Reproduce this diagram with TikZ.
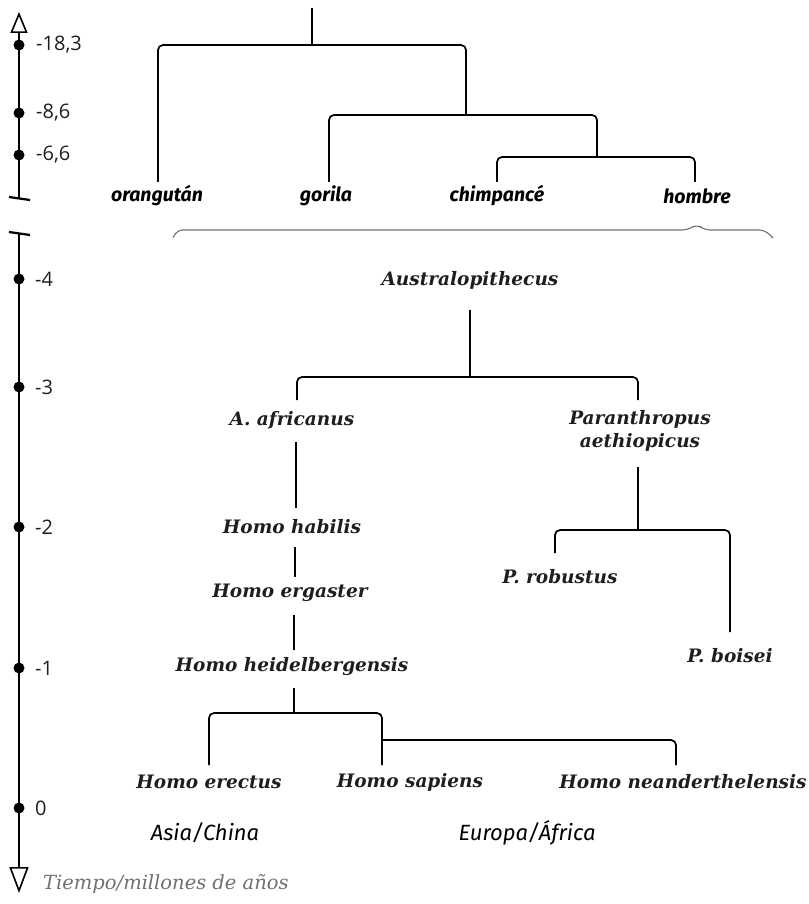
\documentclass[tikz,border=0pt]{standalone}
\usepackage{fontspec}
\setmainfont{DejaVu Serif}
\newfontfamily\numfont{Open Sans}
\newfontfamily\handfont{Fira Sans}
\usetikzlibrary{arrows.meta}
\definecolor{txt}{HTML}{1E1E1E}
\definecolor{graytxt}{HTML}{707070}
\tikzset{
  br/.style={line width=1.7pt, rounded corners=5pt},
  axisln/.style={line width=2.2pt},
  tickdot/.style={circle, fill=black, inner sep=0pt, minimum size=11pt},
  num/.style={anchor=west, font=\numfont\fontsize{20}{22}\selectfont, text=txt, inner sep=0pt},
  hand/.style={font=\handfont\bfseries\itshape\fontsize{19.5}{22}\selectfont, inner sep=0pt},
  sp/.style={font=\bfseries\itshape\fontsize{18.5}{23}\selectfont, text=txt, inner sep=0pt, align=center},
  reg/.style={font=\handfont\itshape\fontsize{22}{24}\selectfont, inner sep=0pt},
}
\begin{document}
\begin{tikzpicture}[x=1pt,y=-1pt]
\useasboundingbox (0,0) rectangle (808,904);
% ---- top axis
\coordinate (a1top) at (19,12);
\coordinate (a1bot) at (19,198);
\draw[axisln, -{Triangle[open,length=21pt,width=17pt,line width=1.6pt]}] (a1bot) -- (a1top);
\draw[axisln] (9,197) -- (30,200);
\foreach \y/\l/\n in {45/-18{,}3/t1, 113/-8{,}6/t2, 155/-6{,}6/t3}{
  \node[tickdot] (d\n) at (19,\y) {};
  \node[num] (l\n) at (36,\y) {\l};
}
% ---- top tree
\node[hand] (orang) at (157,196) {orangután};
\node[hand] (gor) at (326,196) {gorila};
\node[hand] (chimp) at (497,196) {chimpancé};
\node[hand] (homb) at (697,196) {hombre};
\coordinate (root) at (312,8);
\coordinate (j1) at (312,45);
\coordinate (j2) at (466,115);
\coordinate (j3) at (597,157);
\draw[br] (root) -- (j1);
\draw[br] (158,182) -- (158,45) -- (466,45) -- (j2);
\draw[br] (329,182) -- (329,115) -- (597,115) -- (j3);
\draw[br] (497,182) -- (497,157) -- (695,157) -- (695,182);
% ---- brace
\draw[graytxt, line width=1.1pt, rounded corners=6pt] (173,238) -- (177,230) -- (688,230) -- (697,224) -- (704,230) -- (765,230) -- (773,238);
% ---- bottom axis
\draw[axisln, -{Triangle[open,length=26pt,width=19pt,line width=1.6pt]}] (19,233) -- (19,893);
\draw[axisln] (9,232) -- (30,235);
\foreach \y/\l/\n in {279/-4/b1, 387/-3/b2, 527/-2/b3, 668/-1/b4, 808/0/b5}{
  \node[tickdot] (d\n) at (19,\y) {};
  \node[num] (l\n) at (35,\y) {\l};
}
\node[font=\itshape\fontsize{19.5}{22}\selectfont, text=graytxt, anchor=west, inner sep=0pt] (tiempo) at (43,884) {Tiempo/millones de años};
% ---- hominid tree
\node[sp] (austr) at (470,280) {Australopithecus};
\node[sp] (afr) at (292,420) {A. africanus};
\node[sp] (para) at (640,431) {Paranthropus\\aethiopicus};
\node[sp] (hab) at (292,527) {Homo habilis};
\node[sp] (erg) at (290,593) {Homo ergaster};
\node[sp] (heid) at (292,667) {Homo heidelbergensis};
\node[sp] (rob) at (560,577) {P. robustus};
\node[sp] (boi) at (730,656) {P. boisei};
\node[sp] (erec) at (209,782) {Homo erectus};
\node[sp] (sap) at (410,782) {Homo sapiens};
\node[sp] (nean) at (683,782) {Homo neanderthelensis};
\node[reg] (asia) at (205,833) {Asia/China};
\node[reg] (euro) at (527,833) {Europa/África};
\coordinate (ja) at (470,377);
\draw[br] (470,310) -- (ja);
\draw[br] (297,400) -- (297,377) -- (638,377) -- (638,400);
\draw[br] (296,442) -- (296,508);
\draw[br] (295,547) -- (295,577);
\draw[br] (294,615) -- (294,650);
\coordinate (jp) at (638,530);
\draw[br] (638,467) -- (jp);
\draw[br] (555,553) -- (555,530) -- (730,530) -- (730,632);
\coordinate (jh) at (294,713);
\draw[br] (294,688) -- (jh);
\draw[br] (209,765) -- (209,713) -- (382,713) -- (382,765);
\draw[br] (382,740) -- (676,740) -- (676,765);
\end{tikzpicture}
\end{document}
